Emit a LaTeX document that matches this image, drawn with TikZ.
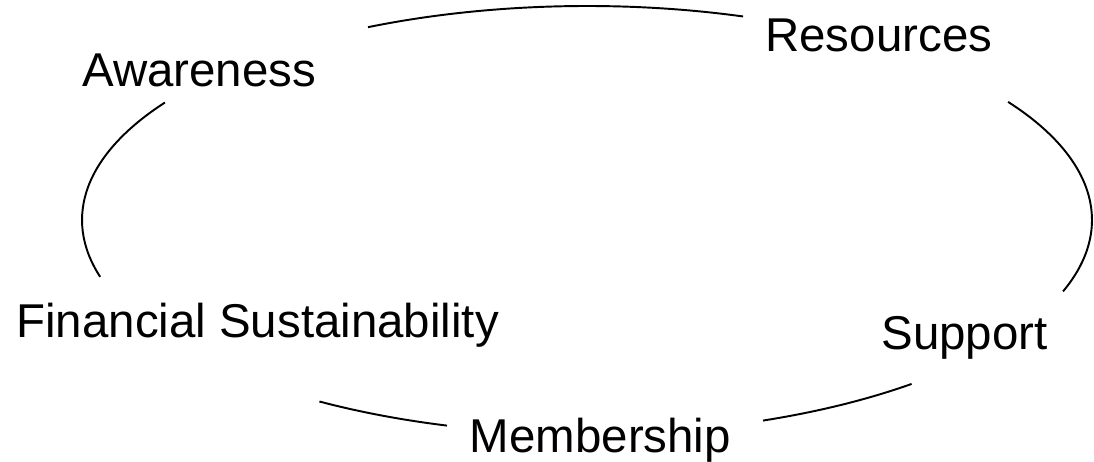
\documentclass[tikz,border=0pt]{standalone}
\usepackage{fontspec}
\setmainfont{Liberation Sans}
\begin{document}
\begin{tikzpicture}[every node/.style={font=\fontsize{27}{32}\selectfont, inner sep=0pt, anchor=base west}]
	\useasboundingbox (0, 0) rectangle (21.88, 9.24);
	% 椭圆中心
	\coordinate (O) at (11.74, 4.84);
	% 五段弧
	\draw [line width=1.1pt] (O) ++(72:10.1 and 4.28) arc [start angle=72, end angle=115.7, x radius=10.1, y radius=4.28];
	\draw [line width=1.1pt] (O) ++(146.7:10.1 and 4.28) arc [start angle=146.7, end angle=195.4, x radius=10.1, y radius=4.28];
	\draw [line width=1.1pt] (O) ++(238:10.1 and 4.28) arc [start angle=238, end angle=253.9, x radius=10.1, y radius=4.28];
	\draw [line width=1.1pt] (O) ++(-69.6:10.1 and 4.28) arc [start angle=-69.6, end angle=-50, x radius=10.1, y radius=4.28];
	\draw [line width=1.1pt] (O) ++(-19.5:10.1 and 4.28) arc [start angle=-19.5, end angle=33.5, x radius=10.1, y radius=4.28];
	% 文字
	\node (aware) at (1.64, 7.5) {Awareness};
	\node (resour) at (15.3, 8.2) {Resources};
	\node (supp) at (17.62, 2.24) {Support};
	\node (member) at (9.39, 0.18) {Membership};
	\node (finsus) at (0.32, 2.48) {Financial Sustainability};
\end{tikzpicture}
\end{document}
